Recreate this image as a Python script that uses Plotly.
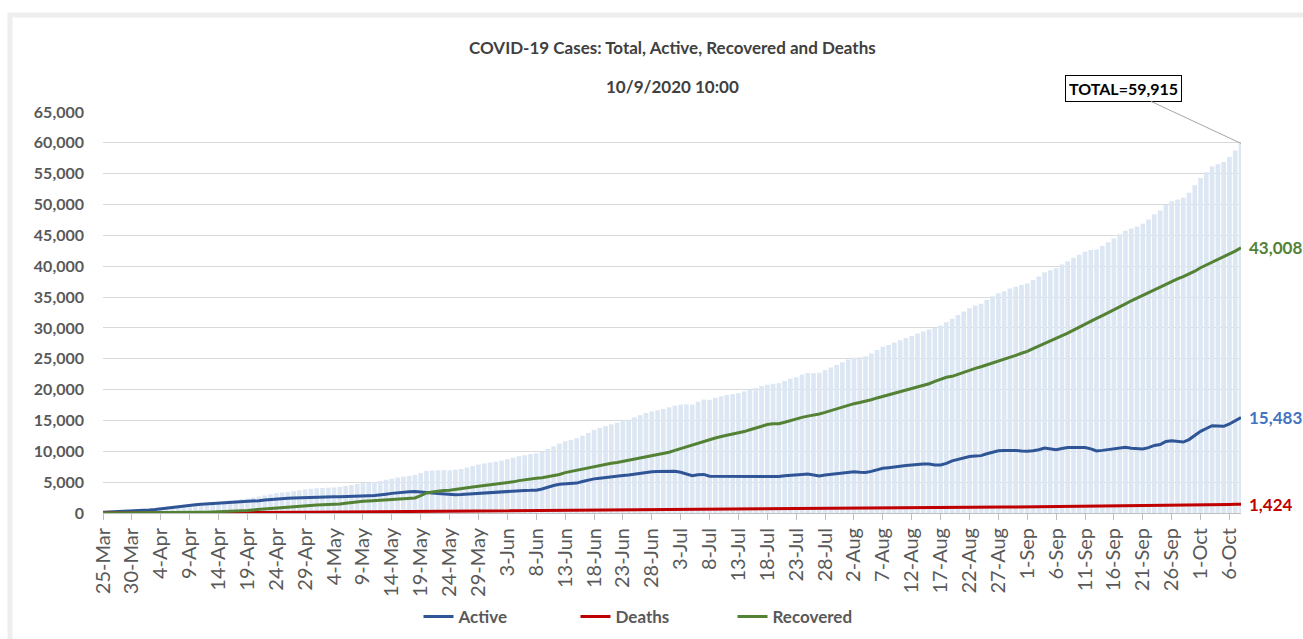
import pandas as pd
import plotly.graph_objects as go

start_date = "2020-03-25"
n_days = 198
dates = pd.date_range(start_date, periods=n_days, freq="D")

active = [
    140, 170, 200, 230, 260, 290, 340, 400, 470, 560,
    680, 790, 900, 1000, 1110, 1250, 1330, 1400, 1450, 1500,
    1560, 1620, 1680, 1720, 1780, 1850, 1920, 2000, 2100, 2200,
    2300, 2360, 2400, 2440, 2480, 2520, 2560, 2590, 2600, 2620,
    2620, 2630, 2640, 2660, 2700, 2760, 2800, 2830, 2900, 3050,
    3180, 3300, 3380, 3450, 3500, 3450, 3350, 3250, 3150, 3050,
    2980, 2960, 2990, 3050, 3150, 3250, 3300, 3350, 3420, 3500,
    3580, 3620, 3650, 3660, 3670, 3700, 3900, 4200, 4450, 4650,
    4720, 4730, 4850, 5100, 5350, 5530, 5650, 5780, 5900, 6000,
    6060, 6150, 6300, 6500, 6650, 6700, 6720, 6740, 6800, 6750,
    6600, 6350, 6050, 6200, 6250, 5950, 5950, 5950, 5950, 5950,
    5930, 5920, 5880, 5850, 5850, 5840, 5850, 5900, 6050, 6080,
    6100, 6250, 6320, 6100, 6000, 6150, 6270, 6300, 6450, 6650,
    6700, 6600, 6550, 6750, 7000, 7240, 7350, 7500, 7600, 7700,
    7780, 7900, 7940, 7950, 7800, 7800, 8050, 8450, 8700, 8900,
    9150, 9250, 9300, 9600, 9900, 10100, 10150, 10200, 10150, 10050,
    10000, 10100, 10250, 10540, 10400, 10270, 10450, 10600, 10620, 10620,
    10600, 10400, 10050, 10150, 10300, 10380, 10550, 10650, 10500, 10400,
    10380, 10600, 10950, 11100, 11600, 11720, 11600, 11500, 11900, 12600,
    13230, 13700, 14150, 14100, 14050, 14430, 14900, 15483,
]

recovered = [
    0, 0, 0, 1, 2, 3, 5, 10, 15, 20,
    25, 30, 40, 50, 60, 70, 90, 110, 130, 160,
    200, 240, 280, 330, 380, 420, 500, 580, 660, 740,
    810, 860, 900, 980, 1080, 1190, 1250, 1290, 1320, 1340,
    1360, 1450, 1580, 1720, 1850, 1900, 1950, 2000, 2080, 2150,
    2190, 2250, 2300, 2350, 2440, 2800, 3250, 3400, 3550, 3650,
    3700, 3800, 3900, 4050, 4200, 4330, 4450, 4550, 4620, 4700,
    4850, 5050, 5250, 5400, 5550, 5650, 5700, 5850, 6000, 6250,
    6550, 6750, 6900, 7050, 7250, 7550, 7750, 7900, 8050, 8200,
    8380, 8550, 8750, 8900, 9100, 9300, 9450, 9650, 9850, 10150,
    10450, 10750, 11000, 11300, 11600, 11850, 12150, 12400, 12600, 12750,
    12900, 13200, 13500, 13800, 14100, 14330, 14450, 14480, 14700, 15000,
    15240, 15500, 15700, 15850, 16050, 16310, 16600, 16950, 17250, 17500,
    17720, 17900, 18100, 18350, 18650, 18900, 19100, 19350, 19600, 19850,
    20090, 20350, 20650, 20950, 21350, 21720, 22000, 22150, 22500, 22850,
    23150, 23450, 23700, 24000, 24300, 24550, 24850, 25200, 25550, 25900,
    26200, 26650, 27050, 27450, 27900, 28350, 28750, 29150, 29650, 30150,
    30620, 31100, 31550, 32000, 32450, 32950, 33450, 33900, 34400, 34850,
    35300, 35750, 36250, 36700, 37100, 37550, 37950, 38300, 38700, 39200,
    39750, 40200, 40650, 41050, 41450, 41900, 42450, 43008,
]

deaths = [
    1, 1, 2, 2, 2, 3, 4, 5, 8, 12,
    15, 19, 23, 27, 29, 31, 35, 39, 44, 48,
    55, 60, 64, 69, 73, 76, 83, 86, 88, 94,
    98, 99, 104, 109, 116, 121, 125, 132, 137, 145,
    150, 152, 158, 162, 168, 172, 180, 185, 190, 194,
    199, 205, 211, 216, 221, 227, 233, 239, 243, 248,
    253, 256, 260, 265, 268, 273, 276, 281, 285, 289,
    295, 300, 305, 309, 315, 320, 326, 332, 338, 345,
    353, 362, 370, 378, 385, 393, 401, 408, 416, 423,
    431, 438, 446, 454, 461, 469, 477, 484, 492, 501,
    509, 516, 524, 531, 540, 548, 556, 563, 572, 580,
    589, 596, 604, 611, 620, 628, 635, 644, 652, 661,
    668, 676, 684, 693, 700, 709, 716, 724, 732, 741,
    748, 757, 764, 772, 781, 788, 797, 804, 812, 821,
    828, 836, 845, 852, 860, 869, 876, 885, 892, 901,
    908, 917, 927, 935, 944, 953, 962, 972, 980, 989,
    998, 1009, 1020, 1031, 1042, 1053, 1064, 1074, 1086, 1097,
    1108, 1118, 1130, 1141, 1152, 1162, 1174, 1185, 1196, 1207,
    1218, 1229, 1240, 1251, 1263, 1273, 1284, 1295, 1306, 1317,
    1328, 1340, 1352, 1365, 1380, 1395, 1410, 1424,
]

assert len(active) == len(recovered) == len(deaths) == n_days
total = [a + r + d for a, r, d in zip(active, recovered, deaths)]

title_text = "COVID-19 Cases: Total, Active, Recovered and Deaths"
subtitle_text = "10/9/2020 10:00"

FONT = "Lato"
GRAY = "#595959"
C_ACTIVE = "#2f5597"
C_ACTIVE_TXT = "#4472c4"
C_DEATHS = "#c00000"
C_REC = "#548235"

fig = go.Figure()
fig.add_trace(go.Bar(x=dates, y=total, name="Total", marker=dict(color="#dce7f3", line=dict(width=0)),
                     showlegend=False))
fig.add_trace(go.Scatter(x=dates, y=active, name="<b>Active</b>", mode="lines",
                         line=dict(color=C_ACTIVE, width=3)))
fig.add_trace(go.Scatter(x=dates, y=deaths, name="<b>Deaths</b>", mode="lines",
                         line=dict(color=C_DEATHS, width=3)))
fig.add_trace(go.Scatter(x=dates, y=recovered, name="<b>Recovered</b>", mode="lines",
                         line=dict(color=C_REC, width=3)))

last = dates[-1]
annotations = [
    dict(x=0.5, y=(513 - 47) / 401, xref="paper", yref="paper", text="<b>" + title_text + "</b>",
         showarrow=False, font=dict(family=FONT, size=17, color="#404040"), xanchor="center", yanchor="middle"),
    dict(x=0.5, y=(513 - 86) / 401, xref="paper", yref="paper", text="<b>" + subtitle_text + "</b>",
         showarrow=False, font=dict(family=FONT, size=17, color="#404040"), xanchor="center", yanchor="middle"),
    dict(x=last, y=total[-1], text="<b>TOTAL=%s</b>" % f"{total[-1]:,}", showarrow=True,
         ax=-118, ay=-55, arrowhead=0, arrowwidth=1, arrowcolor="#a6a6a6",
         font=dict(family=FONT, size=16, color="#000000"), bordercolor="#000000", borderwidth=1,
         borderpad=3, bgcolor="#ffffff"),
    dict(x=last, y=recovered[-1], text="<b>%s</b>" % f"{recovered[-1]:,}", showarrow=False,
         xanchor="left", xshift=6, font=dict(family=FONT, size=17, color=C_REC)),
    dict(x=last, y=active[-1], text="<b>%s</b>" % f"{active[-1]:,}", showarrow=False,
         xanchor="left", xshift=6, font=dict(family=FONT, size=17, color=C_ACTIVE_TXT)),
    dict(x=last, y=deaths[-1], text="<b>%s</b>" % f"{deaths[-1]:,}", showarrow=False,
         xanchor="left", xshift=6, font=dict(family=FONT, size=17, color=C_DEATHS)),
]

fig.update_layout(
    width=1303, height=639,
    margin=dict(l=103, r=62, t=112, b=126, autoexpand=False),
    paper_bgcolor="#ffffff", plot_bgcolor="#ffffff",
    bargap=0.2,
    font=dict(family=FONT, color=GRAY),
    annotations=annotations,
    shapes=[dict(type="rect", xref="paper", yref="paper",
                 x0=(10 - 103) / 1138, x1=1.3, y0=-0.5, y1=(513 - 15) / 401,
                 line=dict(color="#eeeeee", width=5), layer="below")],
    legend=dict(orientation="h", x=(654 - 103) / 1138, xanchor="center",
                yref="container", y=1 - 617 / 639, yanchor="middle",
                font=dict(family=FONT, size=17, color=GRAY),
                entrywidth=112, entrywidthmode="pixels"),
    xaxis=dict(type="date", range=[dates[0], dates[-1]], tickmode="linear", tick0=dates[0],
               dtick=5 * 86400000, tickformat="%-d-%b", tickangle=-90, automargin=False,
               tickfont=dict(family=FONT, size=20, color=GRAY),
               ticks="outside", ticklen=6, tickcolor="#bfbfbf", showgrid=False,
               showline=True, linecolor="#bfbfbf", linewidth=1),
    yaxis=dict(range=[0, 65000], dtick=5000, tickformat=",", gridcolor="#d9d9d9", gridwidth=1,
               zeroline=False, showline=False, ticks="", ticklabelstandoff=18, automargin=False,
               tickfont=dict(family=FONT, size=16, color=GRAY, weight="bold")),
)

fig.write_html("out.html", config={"displayModeBar": False},
               post_script="document.body.style.margin='0';document.body.style.overflow='hidden';")
